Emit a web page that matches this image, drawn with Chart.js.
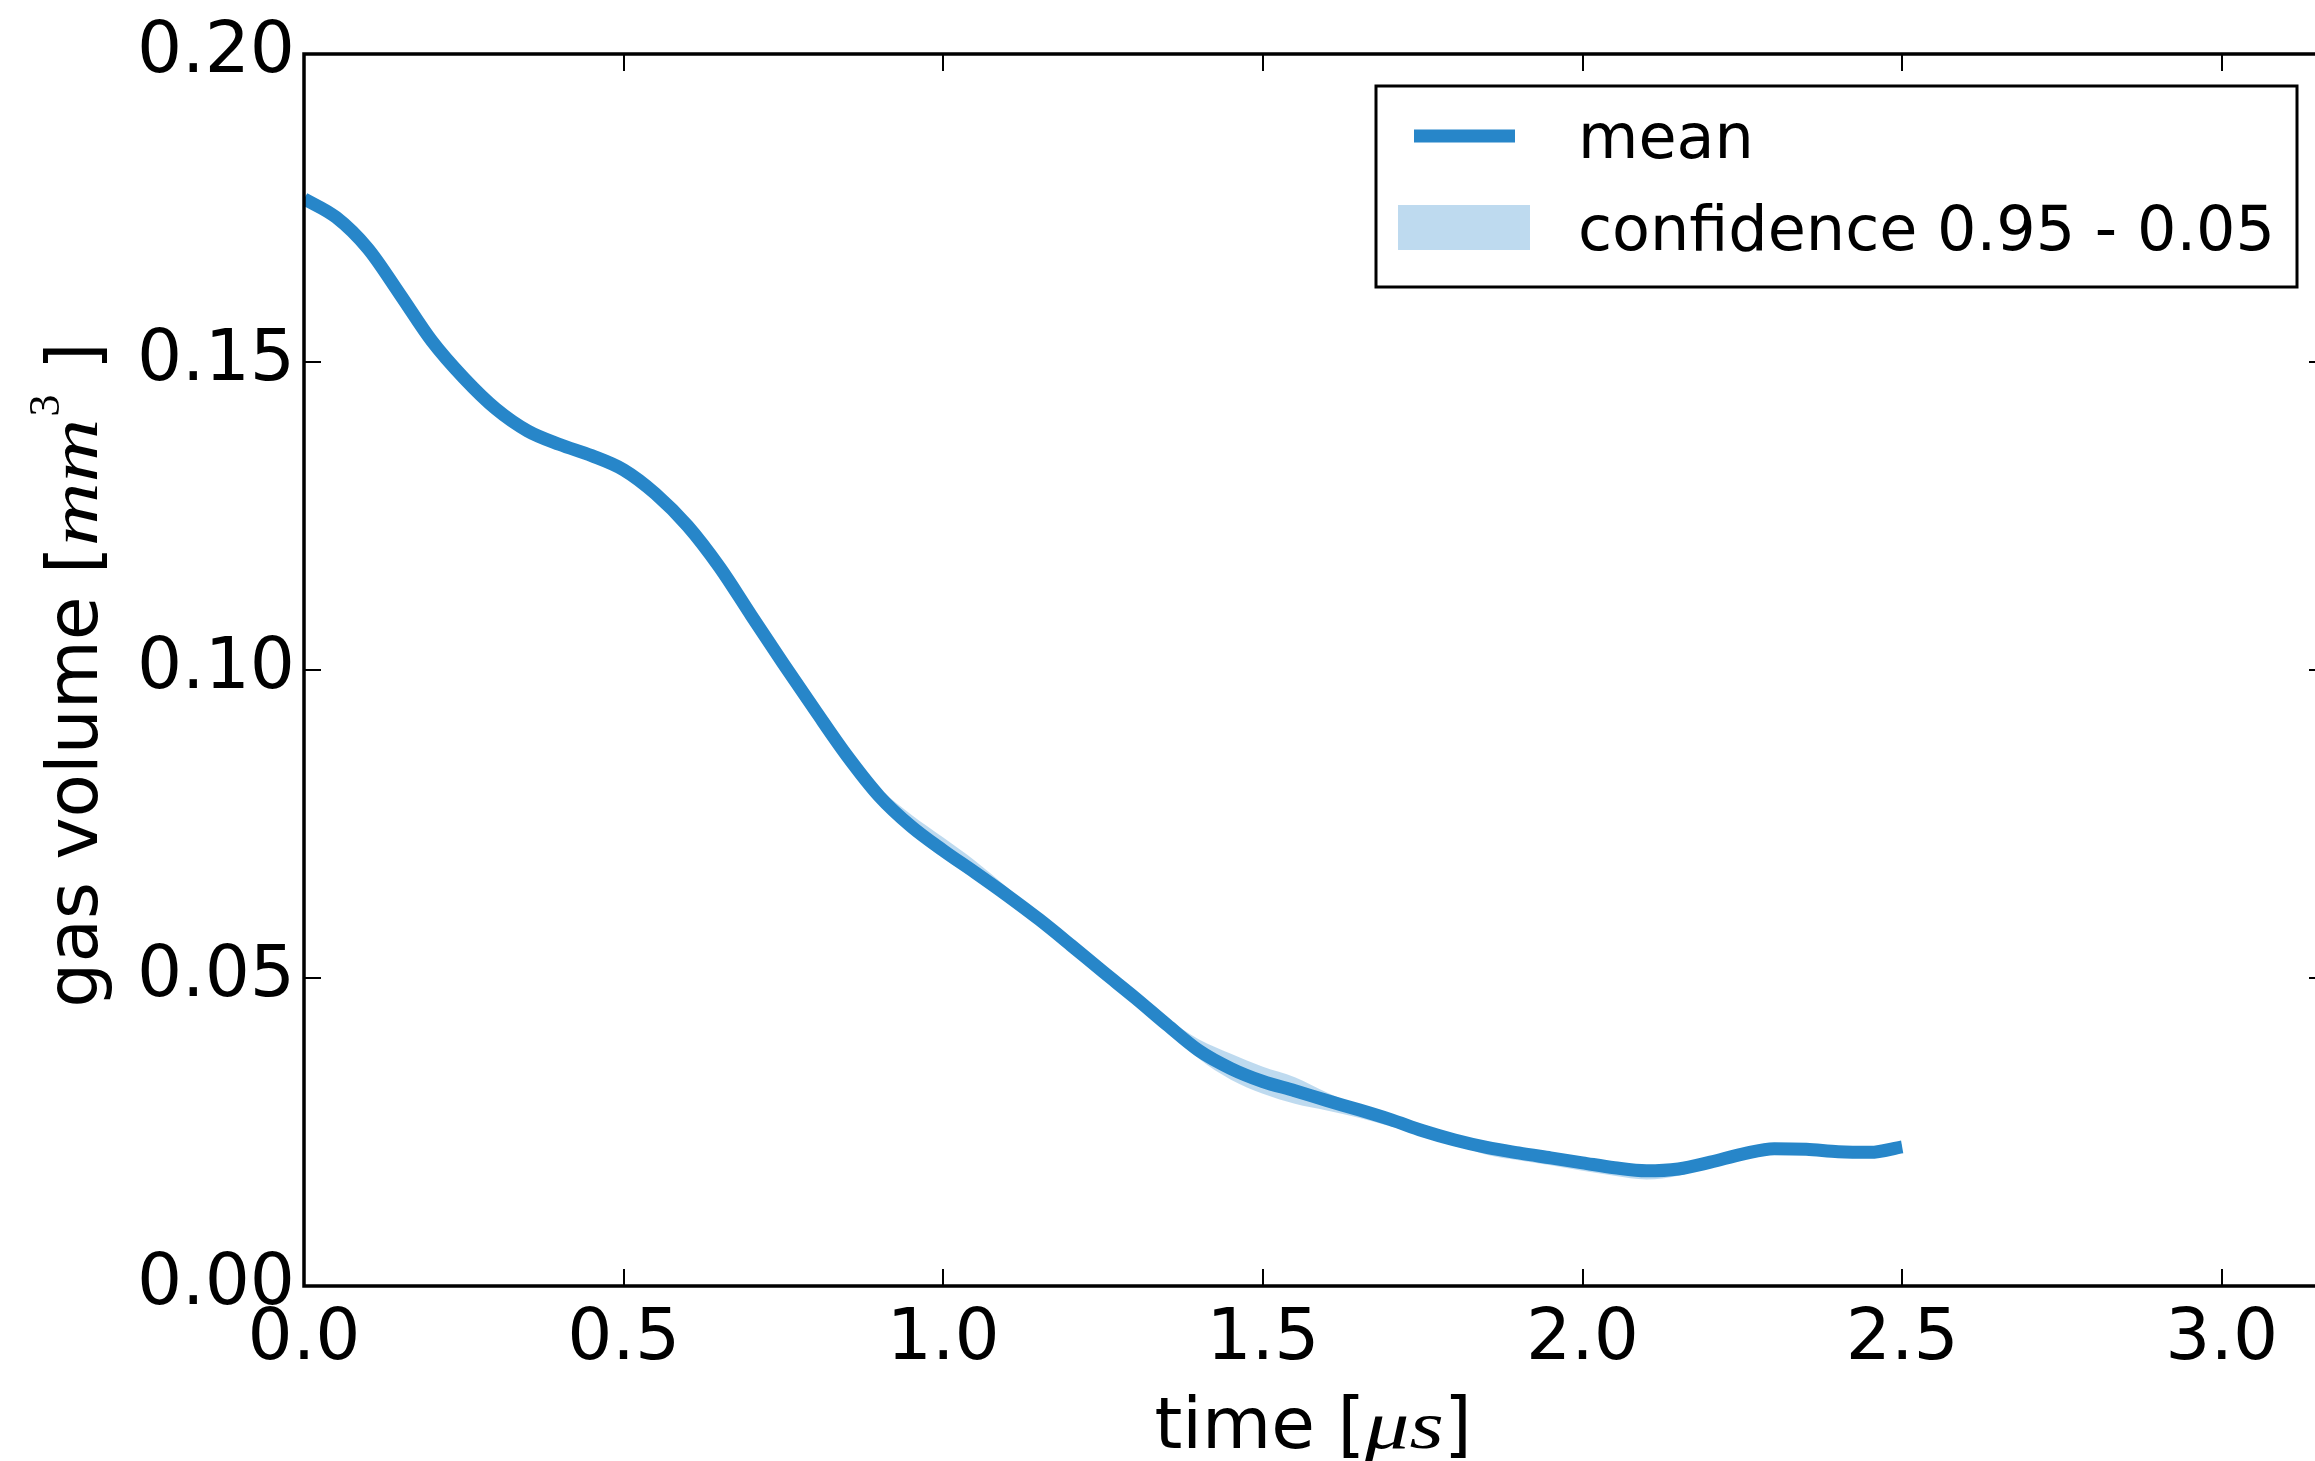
<!DOCTYPE html>
<html>
<head>
<meta charset="utf-8">
<script src="https://cdn.jsdelivr.net/npm/chart.js@4/dist/chart.umd.min.js"></script>
<style>
html, body { margin: 0; padding: 0; overflow: hidden; background: #fff; width: 2315px; height: 1461px; }
#wrap { position: absolute; left: 0; top: 0; width: 2330px; height: 1461px; }
</style>
</head>
<body>
<div id="wrap"><canvas id="c" width="2330" height="1461" style="width:2330px;height:1461px"></canvas></div>
<script>
// ---- data ----
const times = [0.00,0.05,0.10,0.15,0.20,0.25,0.30,0.35,0.40,0.45,0.50,0.55,0.60,0.65,0.70,0.75,0.80,0.85,0.90,0.95,
               1.00,1.05,1.10,1.15,1.20,1.25,1.30,1.35,1.40,1.45,1.50,1.55,1.60,1.65,1.70,1.75,1.80,1.85,1.90,1.95,
               2.00,2.05,2.10,2.15,2.20,2.25,2.30,2.35,2.40,2.45,2.50];
const meanVolume = [0.1765,0.1735,0.1684,0.1610,0.1534,0.1474,0.1424,0.1388,0.1366,0.1348,0.1325,0.1286,0.1234,0.1167,0.1088,0.1010,0.0934,0.0860,0.0795,0.0746,
                    0.0707,0.0671,0.0634,0.0595,0.0553,0.0510,0.0468,0.0424,0.0382,0.0353,0.0332,0.0317,0.0301,0.0286,0.0270,0.0252,0.0237,0.0225,0.0216,0.0208,
                    0.0200,0.0192,0.0187,0.0190,0.0201,0.0214,0.0223,0.0222,0.0218,0.0217,0.0226];
const upperVolume = [0.1769,0.1739,0.1688,0.1614,0.1538,0.1478,0.1428,0.1392,0.1370,0.1352,0.1329,0.1290,0.1238,0.1171,0.1092,0.1014,0.0938,0.0867,0.0808,0.0765,
                     0.0728,0.0690,0.0647,0.0602,0.0557,0.0514,0.0475,0.0435,0.0400,0.0377,0.0356,0.0339,0.0314,0.0292,0.0274,0.0256,0.0241,0.0229,0.0220,0.0212,
                     0.0204,0.0196,0.0191,0.0194,0.0205,0.0218,0.0227,0.0226,0.0222,0.0221,0.0230];
const lowerVolume = [0.1761,0.1731,0.1680,0.1606,0.1530,0.1470,0.1420,0.1384,0.1362,0.1344,0.1321,0.1282,0.1230,0.1163,0.1084,0.1006,0.0930,0.0856,0.0788,0.0735,
                     0.0694,0.0660,0.0627,0.0591,0.0549,0.0506,0.0464,0.0416,0.0369,0.0335,0.0312,0.0296,0.0285,0.0273,0.0259,0.0245,0.0231,0.0213,0.0204,0.0196,
                     0.0187,0.0179,0.0173,0.0179,0.0195,0.0210,0.0219,0.0218,0.0214,0.0213,0.0222];
const xTickValues = [0, 0.5, 1.0, 1.5, 2.0, 2.5, 3.0];
const yTickValues = [0, 0.05, 0.10, 0.15, 0.20];
const seriesLabels = ['mean', 'confidence 0.95 - 0.05'];
const xTitleParts = [
  { text: 'time [', math: false },
  { text: 'μs', math: true },
  { text: ']', math: false }
];
const yTitleParts = [
  { text: 'gas volume [', math: false },
  { text: 'mm', math: true },
  { text: '3', sup: true },
  { text: ' ]', math: false }
];

// ---- styling ----
const LINE_COLOR = '#2786c9';
const BAND_COLOR = 'rgba(39,134,201,0.30)';
const SANS = '"DejaVu Sans", sans-serif';
const SERIF = '"Liberation Serif", "DejaVu Serif", serif';
const TICK_FONT = 71;
const LEGEND_FONT = 62;
const MATH_STRETCH = 1.3;

const toXY = arr => times.map((t, i) => ({ x: t, y: arr[i] }));

function drawRich(ctx, parts, cx, baseY) {
  const fontFor = p => p.sup ? ('44px ' + SERIF) : (p.math ? ('italic 68px ' + SERIF) : (TICK_FONT + 'px ' + SANS));
  const widthOf = p => { ctx.font = fontFor(p); return ctx.measureText(p.text).width * (p.math ? MATH_STRETCH : 1) + (p.sup ? 4 : 0); };
  let total = 0;
  parts.forEach(p => { total += widthOf(p); });
  let x = cx - total / 2;
  ctx.textAlign = 'left';
  ctx.textBaseline = 'alphabetic';
  parts.forEach(p => {
    const w = widthOf(p);
    ctx.font = fontFor(p);
    ctx.save();
    ctx.translate(x + (p.sup ? 2 : 0), baseY + (p.sup ? -38 : 0));
    if (p.math) ctx.scale(MATH_STRETCH, 1);
    ctx.fillText(p.text, 0, 0);
    ctx.restore();
    x += w;
  });
}

const framePlugin = {
  id: 'frameTicks',
  afterDatasetsDraw(chart) {
    const { ctx, chartArea: a, scales } = chart;
    ctx.save();
    ctx.strokeStyle = '#000';
    ctx.lineWidth = 2;
    const tl = 17;
    ctx.beginPath();
    scales.x.ticks.forEach(t => {
      const px = Math.round(scales.x.getPixelForValue(t.value));
      ctx.moveTo(px, a.bottom); ctx.lineTo(px, a.bottom - tl);
      ctx.moveTo(px, a.top); ctx.lineTo(px, a.top + tl);
    });
    scales.y.ticks.forEach(t => {
      const py = Math.round(scales.y.getPixelForValue(t.value));
      ctx.moveTo(a.left, py); ctx.lineTo(a.left + tl, py);
      ctx.moveTo(a.right, py); ctx.lineTo(a.right - tl, py);
    });
    ctx.stroke();
    ctx.lineWidth = 3.5;
    ctx.strokeRect(a.left, a.top, a.right - a.left, a.bottom - a.top);
    ctx.restore();
  }
};

const legendPlugin = {
  id: 'boxLegend',
  afterDraw(chart) {
    const { ctx, chartArea: a } = chart;
    const x0 = 1376, y0 = a.top + 32, w = 921, h = 201;
    ctx.save();
    ctx.fillStyle = '#fff';
    ctx.fillRect(x0, y0, w, h);
    ctx.strokeStyle = '#000';
    ctx.lineWidth = 3;
    ctx.strokeRect(x0, y0, w, h);
    ctx.strokeStyle = LINE_COLOR;
    ctx.lineWidth = 13;
    ctx.lineCap = 'butt';
    ctx.beginPath();
    ctx.moveTo(x0 + 38, y0 + 50);
    ctx.lineTo(x0 + 139, y0 + 50);
    ctx.stroke();
    ctx.fillStyle = BAND_COLOR;
    ctx.fillRect(x0 + 22, y0 + 119, 132, 45);
    ctx.fillStyle = '#000';
    ctx.font = LEGEND_FONT + 'px ' + SANS;
    ctx.textAlign = 'left';
    ctx.textBaseline = 'alphabetic';
    ctx.fillText(chart.data.datasets[0].label, x0 + 202, y0 + 72);
    ctx.fillText(chart.data.datasets[1].label, x0 + 202, y0 + 164);
    ctx.restore();
  }
};

const titlesPlugin = {
  id: 'richTitles',
  afterDraw(chart) {
    const { ctx, chartArea: a } = chart;
    ctx.save();
    ctx.fillStyle = '#000';
    drawRich(ctx, xTitleParts, 1313, 1448);
    ctx.translate(97, (a.top + a.bottom) / 2 + 5);
    ctx.rotate(-Math.PI / 2);
    drawRich(ctx, yTitleParts, 0, 0);
    ctx.restore();
  }
};

const noPad = s => { s.paddingTop = 0; s.paddingBottom = 0; s.paddingLeft = 0; s.paddingRight = 0; };

const ctx = document.getElementById('c').getContext('2d');
new Chart(ctx, {
  type: 'line',
  data: {
    datasets: [
      { label: seriesLabels[0], data: toXY(meanVolume), borderColor: LINE_COLOR, borderWidth: 13,
        pointRadius: 0, fill: false, cubicInterpolationMode: 'monotone', borderCapStyle: 'butt', borderJoinStyle: 'round' },
      { label: seriesLabels[1], data: toXY(upperVolume), borderColor: 'rgba(0,0,0,0)', borderWidth: 0,
        backgroundColor: BAND_COLOR, pointRadius: 0, fill: '+1', cubicInterpolationMode: 'monotone' },
      { label: 'lower', data: toXY(lowerVolume), borderColor: 'rgba(0,0,0,0)', borderWidth: 0,
        pointRadius: 0, fill: false, cubicInterpolationMode: 'monotone' }
    ]
  },
  options: {
    responsive: false,
    animation: false,
    devicePixelRatio: 1,
    events: [],
    layout: { padding: { left: 0, top: 54, right: 4, bottom: 0 } },
    plugins: { legend: { display: false }, tooltip: { enabled: false }, title: { display: false } },
    scales: {
      x: {
        type: 'linear', min: 0, max: 3.163,
        grid: { display: false, drawTicks: false },
        border: { display: false },
        afterBuildTicks: s => { s.ticks = xTickValues.map(v => ({ value: v })); },
        afterFit: s => { s.height = 175; noPad(s); },
        ticks: { font: { family: SANS, size: TICK_FONT }, color: '#000', padding: 12, maxRotation: 0, autoSkip: false,
                 callback: v => Number(v).toFixed(1) }
      },
      y: {
        type: 'linear', min: 0, max: 0.2,
        grid: { display: false, drawTicks: false },
        border: { display: false },
        afterBuildTicks: s => { s.ticks = yTickValues.map(v => ({ value: v })); },
        afterFit: s => { s.width = 304; noPad(s); },
        ticks: { font: { family: SANS, size: TICK_FONT }, color: '#000', padding: 9, autoSkip: false,
                 callback: v => Number(v).toFixed(2) }
      }
    }
  },
  plugins: [framePlugin, legendPlugin, titlesPlugin]
});
</script>
</body>
</html>
